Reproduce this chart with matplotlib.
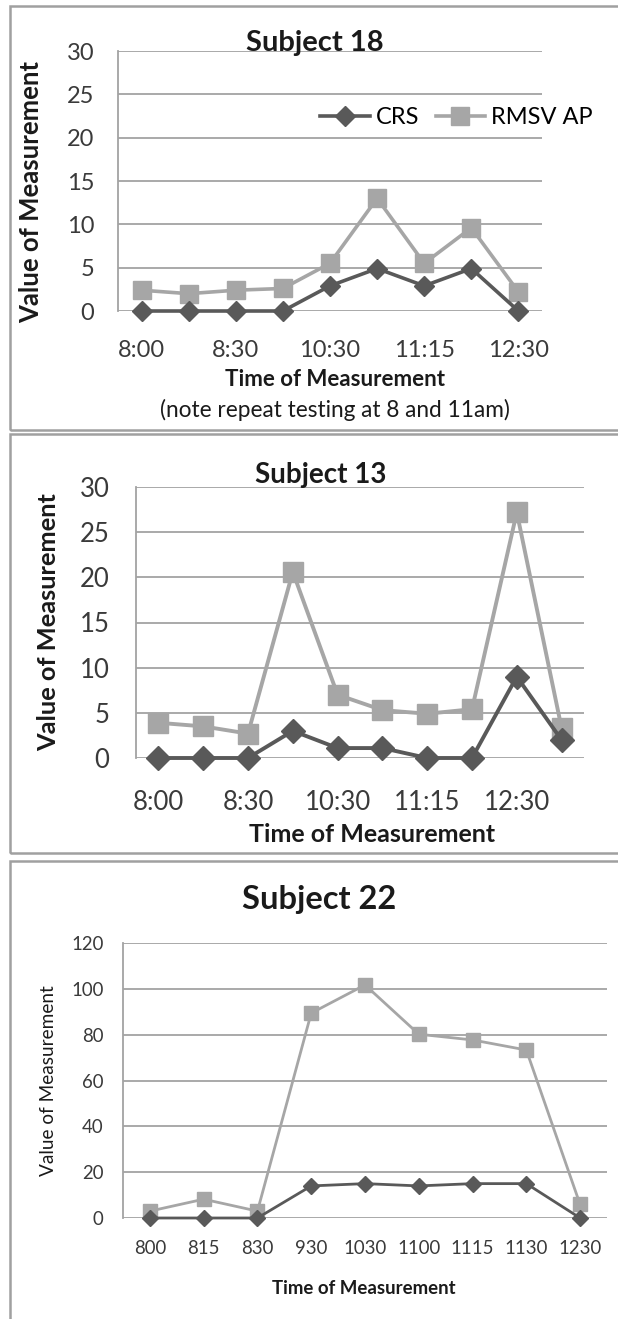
import matplotlib
matplotlib.use('Agg')
import matplotlib.pyplot as plt
from matplotlib.patches import Rectangle

plt.rcParams['font.family'] = ['Lato', 'DejaVu Sans']

# Subject 18
times18 = ['8:00', '8:15', '8:30', '9:30', '10:30', '11:00', '11:15', '11:30', '12:30']
crs18 = [0, 0, 0, 0, 2.9, 4.9, 2.9, 4.9, 0]
rmsv18 = [2.4, 2.0, 2.4, 2.6, 5.5, 13.0, 5.5, 9.6, 2.2]

# Subject 13
times13 = ['8:00', '8:15', '8:30', '9:30', '10:30', '11:00', '11:15', '11:30', '12:30', '1:00']
crs13 = [0, 0, 0, 3.0, 1.1, 1.1, 0, 0, 9.0, 2.0]
rmsv13 = [3.9, 3.5, 2.7, 20.6, 7.0, 5.3, 4.9, 5.4, 27.2, 3.3]

# Subject 22
times22 = ['800', '815', '830', '930', '1030', '1100', '1115', '1130', '1230']
crs22 = [0, 0, 0, 14, 15, 14, 15, 15, 0]
rmsv22 = [3, 8.2, 3, 89.4, 101.7, 80.2, 77.7, 73.3, 5.9]

W, H = 618, 1319
DARK = '#595959'
LIGHT = '#a6a6a6'
GRID = '#a3a3a3'
INK = '#1a1a1a'

fig = plt.figure(figsize=(W / 100, H / 100), dpi=100)


def box(top, bottom):
    # grey frame around each chart, open on the right
    r = Rectangle((10 / W, 1 - bottom / H), 1.2, (bottom - top) / H,
                  transform=fig.transFigure, fill=False,
                  edgecolor='#a0a0a0', lw=1.8, clip_on=False)
    fig.patches.append(r)


def label(x, y, s, size, bold=True, rot=0):
    fig.text(x / W, 1 - y / H, s, ha='center', va='center', rotation=rot,
             fontsize=size, fontweight='bold' if bold else 'normal', color=INK)


def panel(left, right, top, bottom, x, crs, rmsv, ymax, ystep,
          ms, lw, tick_fs, ypad, xpad, every=1):
    ax = fig.add_axes([left / W, 1 - bottom / H, (right - left) / W, (bottom - top) / H])
    n = len(x)
    pos = list(range(n))
    ax.plot(pos, rmsv, color=LIGHT, lw=lw, marker='s', ms=ms,
            mec=LIGHT, mfc=LIGHT, clip_on=False, zorder=3, label='RMSV AP')
    ax.plot(pos, crs, color=DARK, lw=lw, marker='D', ms=ms * 0.8,
            mec=DARK, mfc=DARK, clip_on=False, zorder=4, label='CRS')
    ax.set_xlim(-0.5, n - 0.5)
    ax.set_ylim(0, ymax)
    ax.set_yticks(range(0, ymax + 1, ystep))
    ax.set_xticks(pos)
    ax.set_xticklabels([t if i % every == 0 else '' for i, t in enumerate(x)])
    ax.yaxis.grid(True, color=GRID, lw=1.3)
    ax.set_axisbelow(True)
    for s in ['top', 'right', 'bottom']:
        ax.spines[s].set_visible(False)
    ax.spines['left'].set_color(GRID)
    ax.spines['left'].set_linewidth(1.3)
    ax.tick_params(length=0, labelsize=tick_fs, colors='#3a3a3a')
    ax.tick_params(axis='y', pad=ypad)
    ax.tick_params(axis='x', pad=xpad)
    return ax


# Subject 18
box(6, 430)
ax1 = panel(118, 542, 51, 311, times18, crs18, rmsv18, 30, 5,
            ms=13, lw=2.6, tick_fs=17, ypad=17, xpad=21, every=2)
label(315, 43, 'Subject 18', 21)
label(31, 192, 'Value of Measurement', 18.5, rot=90)
label(335, 380, 'Time of Measurement', 16)
label(335, 410, '(note repeat testing at 8 and 11am)', 16.3, bold=False)
h, l = ax1.get_legend_handles_labels()
fig.legend(h[::-1], l[::-1], loc='center left', bbox_to_anchor=(320 / W, 1 - 118 / H),
           ncol=2, frameon=False, fontsize=17, handlelength=2.1, handletextpad=0.25,
           columnspacing=0.7, borderpad=0, borderaxespad=0)

# Subject 13
box(434, 853)
panel(136, 584, 487, 758, times13, crs13, rmsv13, 30, 5,
      ms=15, lw=2.8, tick_fs=18.5, ypad=19, xpad=23, every=2)
label(321, 475, 'Subject 13', 20)
label(49, 622, 'Value of Measurement', 18.3, rot=90)
label(372, 835, 'Time of Measurement', 18)

# Subject 22
box(861, 1400)
panel(123, 607, 943, 1218, times22, crs22, rmsv22, 120, 20,
      ms=10, lw=2.0, tick_fs=13.4, ypad=14, xpad=16)
label(319, 899, 'Subject 22', 23.5)
label(49, 1081, 'Value of Measurement', 13.7, bold=False, rot=90)
label(364, 1288, 'Time of Measurement', 13.4)

fig.savefig('out.png', dpi=100)
